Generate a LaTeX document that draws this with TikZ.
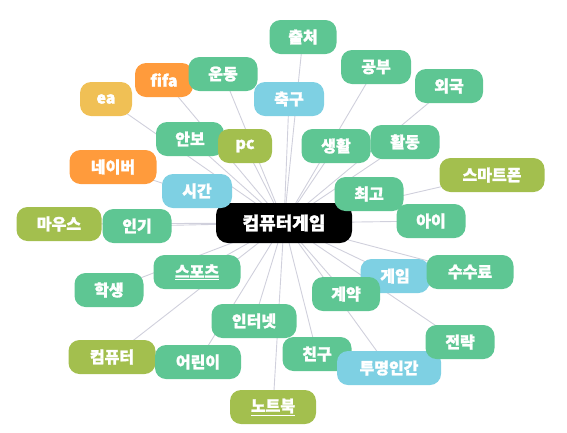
\documentclass[tikz,border=0pt]{standalone}
\usepackage{fontspec}
\setmainfont{Noto Sans CJK KR}[BoldFeatures={FakeBold=1.5}]
\usetikzlibrary{backgrounds}
\definecolor{cgreen}{HTML}{5EC693}
\definecolor{colive}{HTML}{A3BF4E}
\definecolor{corange}{HTML}{FF9B3C}
\definecolor{cyellow}{HTML}{F0C055}
\definecolor{cblue}{HTML}{7ED0E3}
\definecolor{cedge}{HTML}{D0D0DC}
\tikzset{
  wbox/.style={rounded corners=11pt, minimum height=34pt, inner sep=0pt, text=white,
    font=\fontsize{16}{18}\selectfont\bfseries},
  gbox/.style={wbox, fill=cgreen},
  obox/.style={wbox, fill=colive},
  rbox/.style={wbox, fill=corange},
  ybox/.style={wbox, fill=cyellow},
  bbox/.style={wbox, fill=cblue},
  hub/.style={rounded corners=12pt, fill=black, text=white, minimum width=136pt,
    minimum height=40pt, inner sep=0pt, font=\fontsize{18}{20}\selectfont\bfseries},
  link/.style={draw=cedge, line width=0.9pt}
}
\begin{document}
\begin{tikzpicture}[x=1pt,y=-1pt]
\useasboundingbox (0,0) rectangle (567,432);
\node[hub] (c) at (284,223) {컴퓨터게임};
\node[ybox, minimum width=52pt] (ea) at (106,99) {ea};
\node[rbox, minimum width=58pt] (fifa) at (164,80) {fifa};
\node[gbox, minimum width=69pt] (undong) at (223,74) {운동};
\node[gbox, minimum width=67pt] (chulcheo) at (303,37) {출처};
\node[bbox, minimum width=70pt] (chukgu) at (289,99) {축구};
\node[gbox, minimum width=70pt] (gongbu) at (376,67) {공부};
\node[gbox, minimum width=68pt] (oeguk) at (449,86) {외국};
\node[gbox, minimum width=68pt] (anbo) at (190,139) {안보};
\node[obox, minimum width=54pt] (pc) at (245,146) {pc};
\node[gbox, minimum width=69pt] (saenghwal) at (336,146) {생활};
\node[gbox, minimum width=69pt] (hwaldong) at (405,142) {활동};
\node[rbox, minimum width=87pt] (naver) at (113,167) {네이버};
\node[bbox, minimum width=70pt] (sigan) at (197,191) {시간};
\node[obox, minimum width=105pt] (smart) at (492,175) {스마트폰};
\node[gbox, minimum width=69pt] (choego) at (369,194) {최고};
\node[obox, minimum width=85pt] (mouse) at (59,224) {마우스};
\node[gbox, minimum width=69pt] (ingi) at (137,226) {인기};
\node[gbox, minimum width=69pt] (ai) at (431,221) {아이};
\node[gbox, minimum width=87pt] (sports) at (197,272) {\underline{스포츠}};
\node[gbox, minimum width=69pt] (haksaeng) at (109,290) {학생};
\node[bbox, minimum width=69pt] (game) at (395,276) {게임};
\node[gbox, minimum width=87pt] (susuryo) at (470,272) {수수료};
\node[gbox, minimum width=68pt] (gyeyak) at (346,294) {계약};
\node[gbox, minimum width=85pt] (internet) at (254,321) {인터넷};
\node[obox, minimum width=87pt] (computer) at (112,357) {컴퓨터};
\node[gbox, minimum width=86pt] (eorini) at (198,362) {어린이};
\node[gbox, minimum width=69pt] (chingu) at (317,354) {친구};
\node[bbox, minimum width=104pt] (tumyeong) at (389,368) {투명인간};
\node[gbox, minimum width=69pt] (jeollyak) at (460,342) {전략};
\node[obox, minimum width=86pt] (notebook) at (273,407) {\underline{노트북}};
\begin{pgfonlayer}{background}
\foreach \n in {ea,fifa,undong,chulcheo,chukgu,gongbu,oeguk,anbo,pc,saenghwal,hwaldong,
  naver,sigan,smart,choego,mouse,ingi,ai,sports,haksaeng,game,susuryo,gyeyak,internet,
  computer,eorini,chingu,tumyeong,jeollyak,notebook}
  \draw[link] (c.center) -- (\n.center);
\end{pgfonlayer}
\end{tikzpicture}
\end{document}
